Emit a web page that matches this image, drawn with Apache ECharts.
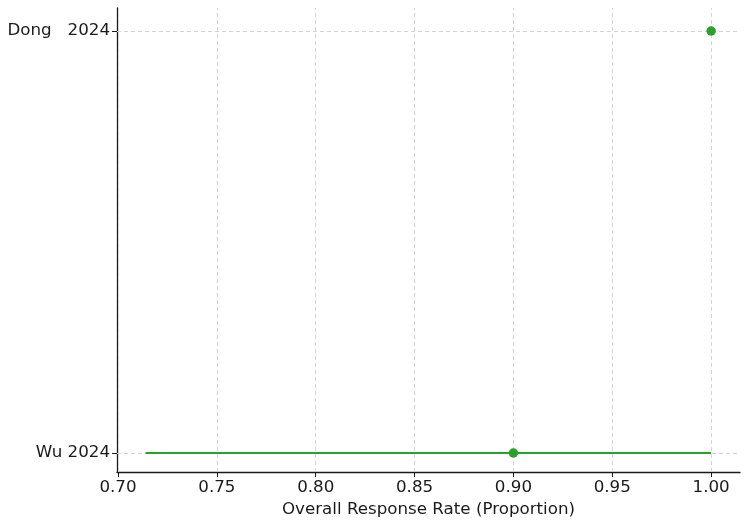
<!DOCTYPE html>
<html>
<head>
<meta charset="utf-8">
<script src="https://cdn.jsdelivr.net/npm/echarts@6/dist/echarts.min.js"></script>
<style>
  html, body { margin: 0; padding: 0; background: #fff; }
  #chart { width: 750px; height: 527px; }
</style>
</head>
<body>
<div id="chart"></div>
<script>
// studies listed bottom to top
const studies = ['Wu 2024', 'Dong   2024'];
const estimates = [0.90, 1.00];
const lower = [0.714, 1.00];
const upper = [1.00, 1.00];
const xTicks = [0.70, 0.75, 0.80, 0.85, 0.90, 0.95, 1.00];

const green = '#2ca02c';
const font = 'DejaVu Sans';
const fs = 16.7;
const rows = studies.map((s, i) => i);

const chart = echarts.init(document.getElementById('chart'));

// dashed grid drawn under everything else
const gridSeries = {
  type: 'line',
  data: [],
  silent: true,
  z: 1,
  markLine: {
    silent: true,
    symbol: 'none',
    animation: false,
    label: { show: false },
    lineStyle: { color: '#d4d4d4', type: [4, 3], width: 1 },
    emphasis: { disabled: true },
    data: [
      ...xTicks.map(v => ({ xAxis: v })),
      ...rows.map(r => ({ yAxis: r }))
    ]
  }
};

const ciSeries = studies.map((s, i) => ({
  type: 'line',
  name: s,
  data: [[lower[i], i], [upper[i], i]],
  showSymbol: false,
  symbol: 'none',
  silent: true,
  lineStyle: { color: green, width: 2.2 },
  z: 5
}));

chart.setOption({
  animation: false,
  grid: { left: 117, right: 10, top: 8, bottom: 55 },
  xAxis: {
    type: 'value',
    min: 0.6995,
    max: 1.0146,
    name: 'Overall Response Rate (Proportion)',
    nameLocation: 'middle',
    nameGap: 29,
    nameTextStyle: { fontFamily: font, fontSize: fs, color: '#1a1a1a' },
    axisLine: { show: true, onZero: false, lineStyle: { color: '#1a1a1a', width: 1.3 } },
    axisTick: { show: true, customValues: xTicks, length: 5, lineStyle: { color: '#1a1a1a' } },
    axisLabel: {
      customValues: xTicks,
      formatter: v => v.toFixed(2),
      fontFamily: font, fontSize: fs, color: '#1a1a1a', margin: 7
    },
    splitLine: { show: false }
  },
  yAxis: {
    type: 'value',
    min: -0.045,
    max: 1.0545,
    axisLine: { show: true, onZero: false, lineStyle: { color: '#1a1a1a', width: 1.3 } },
    axisTick: { show: true, customValues: rows, length: 5, lineStyle: { color: '#1a1a1a' } },
    axisLabel: {
      customValues: rows,
      formatter: v => studies[Math.round(v)],
      fontFamily: font, fontSize: fs, color: '#1a1a1a', margin: 7
    },
    splitLine: { show: false }
  },
  series: [
    gridSeries,
    ...ciSeries,
    {
      type: 'scatter',
      data: estimates.map((v, i) => [v, i]),
      symbolSize: 9.5,
      silent: true,
      itemStyle: { color: green, opacity: 1 },
      z: 6
    }
  ]
});
</script>
</body>
</html>
